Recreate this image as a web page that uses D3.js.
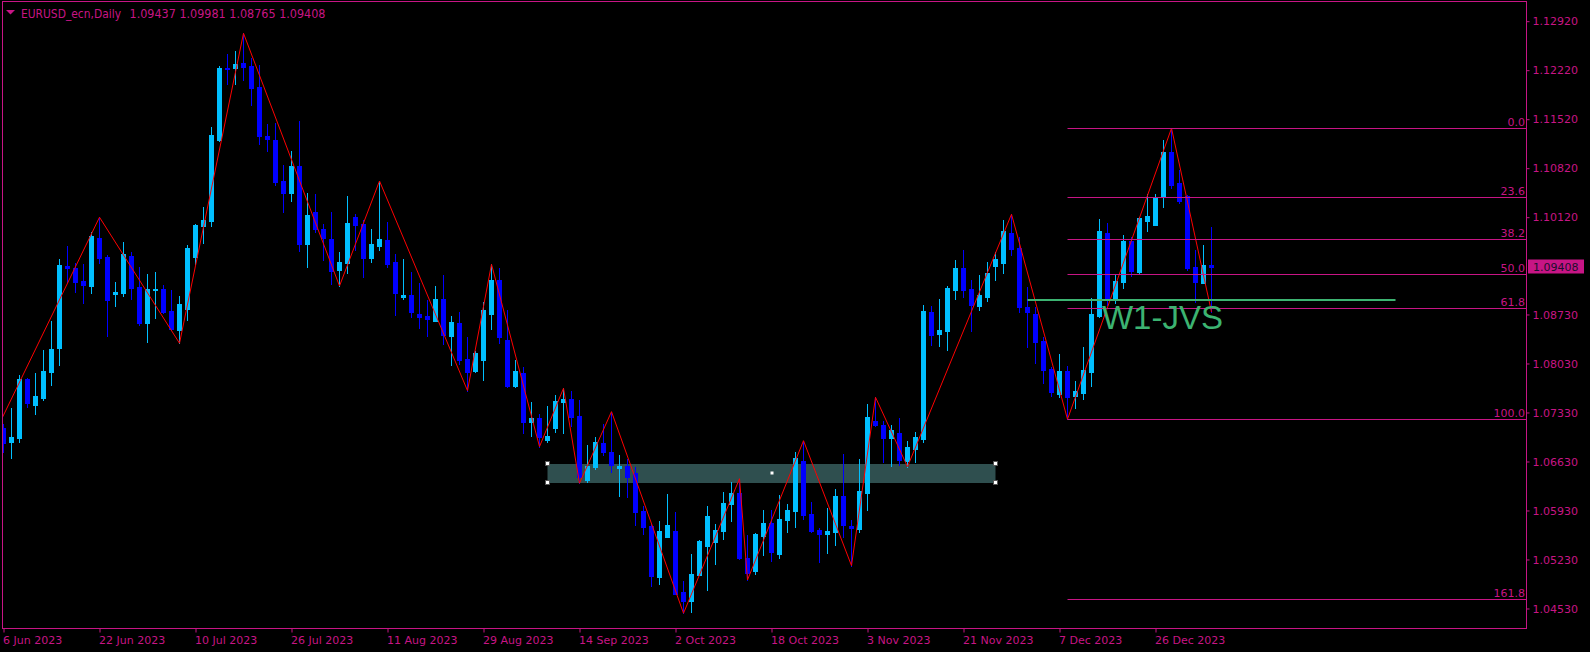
<!DOCTYPE html>
<html><head><meta charset="utf-8">
<script src="https://cdn.jsdelivr.net/npm/d3@7"></script>
<style>html,body{margin:0;padding:0;background:#000;overflow:hidden}</style>
</head><body><svg id="c" width="1590" height="652"></svg>
<script>
// ---- data (EURUSD_ecn, Daily) ----
const symbolTitle = "EURUSD_ecn,Daily";
const lastQuote = ["1.09437", "1.09981", "1.08765", "1.09408"];
const opens = [1.07104,1.06913,1.06970,1.07809,1.07442,1.07542,1.07909,1.08256,1.09423,1.09399,
1.09209,1.09137,1.09823,1.09552,1.09027,1.09037,1.09566,1.09123,1.08609,1.09080,
1.09094,1.08780,1.08509,1.08809,1.09552,1.09994,1.10066,1.11223,1.12256,1.12256,
1.12323,1.12280,1.11980,1.11284,1.11227,1.10637,1.10466,1.10856,1.09742,1.10194,
1.09952,1.09809,1.09370,1.09466,1.10123,1.10023,1.09537,1.09709,1.09794,1.09480,
1.08984,1.09009,1.08737,1.08709,1.08642,1.08952,1.08427,1.08609,1.08094,1.07927,
1.08084,1.08742,1.09223,1.08370,1.07709,1.07894,1.07199,1.07252,1.06942,1.07113,
1.07480,1.07523,1.07280,1.06366,1.06552,1.06894,1.06766,1.06542,1.06566,1.06466,
1.05923,1.05713,1.04980,1.05556,1.05637,1.04766,1.04637,1.05013,1.05427,1.05480,
1.05642,1.06027,1.06180,1.05256,1.05070,1.05570,1.05752,1.05313,1.05799,1.05927,
1.06637,1.05880,1.05652,1.05599,1.05627,1.06137,1.05709,1.05666,1.06180,1.07209,
1.07152,1.06966,1.07037,1.06637,1.06809,1.06952,1.08766,1.08452,1.08494,1.09080,
1.09394,1.09094,1.08852,1.08980,1.09423,1.09466,1.09894,1.09680,1.08842,1.08737,
1.08356,1.07952,1.07599,1.07923,1.07570,1.07613,1.07913,1.08713,1.09894,1.08942,
1.09199,1.09784,1.09342,1.10070,1.10013,1.10404,1.11056,1.10613,1.10427,1.09413,
1.09184,1.09437];
const highs = [1.07166,1.07390,1.07866,1.07823,1.07899,1.08223,1.08637,1.09523,1.09709,1.09466,
1.09452,1.09909,1.10119,1.09580,1.09194,1.09766,1.09623,1.09409,1.09309,1.09337,
1.09152,1.09080,1.08994,1.09723,1.10023,1.10266,1.11409,1.12280,1.12452,1.12494,
1.12747,1.12394,1.12294,1.11452,1.11466,1.10866,1.11066,1.11494,1.10470,1.10452,
1.10023,1.10194,1.09623,1.10423,1.10166,1.10080,1.09952,1.10637,1.10052,1.09594,
1.09523,1.09337,1.09180,1.08937,1.09137,1.09294,1.08709,1.08766,1.08409,1.08209,
1.08909,1.09447,1.09394,1.08799,1.08080,1.07980,1.07480,1.07309,1.07423,1.07580,
1.07676,1.07637,1.07509,1.06866,1.06980,1.07166,1.07342,1.06723,1.06670,1.06552,
1.05994,1.05742,1.05780,1.06166,1.05909,1.04923,1.05309,1.05509,1.05994,1.05737,
1.06194,1.06337,1.06384,1.05580,1.05609,1.05937,1.05937,1.06152,1.06023,1.06766,
1.06927,1.06052,1.05680,1.05966,1.06237,1.06737,1.05794,1.06666,1.07452,1.07547,
1.07209,1.07152,1.07252,1.06923,1.07052,1.08866,1.08852,1.08952,1.09137,1.09509,
1.09652,1.09223,1.09294,1.09480,1.09623,1.10080,1.10162,1.09837,1.09127,1.08842,
1.08413,1.07984,1.08170,1.07999,1.07784,1.08270,1.08966,1.10099,1.10042,1.09299,
1.09866,1.09842,1.10123,1.10452,1.10452,1.11223,1.11390,1.10794,1.10437,1.09652,
1.09723,1.09981];
const lows = [1.06766,1.06680,1.06913,1.07413,1.07313,1.07513,1.07723,1.08009,1.09194,1.09056,
1.08899,1.09042,1.09470,1.08423,1.08852,1.08994,1.08952,1.08580,1.08337,1.08680,
1.08752,1.08509,1.08319,1.08652,1.09452,1.09752,1.09994,1.11209,1.12023,1.12023,
1.12080,1.11723,1.11166,1.11070,1.10580,1.10199,1.10352,1.09637,1.09409,1.09913,
1.09509,1.09170,1.09137,1.09323,1.09652,1.09266,1.09480,1.09652,1.09409,1.08723,
1.08952,1.08699,1.08542,1.08427,1.08630,1.08313,1.08013,1.08027,1.07642,1.07913,
1.07799,1.08527,1.08327,1.07694,1.07694,1.07042,1.06999,1.06842,1.06913,1.07056,
1.07042,1.07142,1.06319,1.06337,1.06523,1.06723,1.06480,1.06142,1.06127,1.05723,
1.05599,1.04856,1.04884,1.05544,1.04730,1.04462,1.04484,1.05002,1.04799,1.05170,
1.05527,1.05784,1.05242,1.04937,1.05027,1.05299,1.05209,1.05256,1.05627,1.05699,
1.05813,1.05623,1.05199,1.05327,1.05442,1.05556,1.05142,1.05627,1.05937,1.07137,
1.06623,1.06566,1.06580,1.06556,1.06623,1.06909,1.08294,1.08280,1.08223,1.08952,
1.08980,1.08494,1.08794,1.08923,1.09223,1.09323,1.09580,1.08770,1.08270,1.08033,
1.07756,1.07570,1.07556,1.07233,1.07399,1.07527,1.07713,1.08699,1.08870,1.08899,
1.09113,1.09284,1.09327,1.09927,1.10002,1.10270,1.10542,1.10327,1.09370,1.08913,
1.09173,1.08765];
const closes = [1.06890,1.06980,1.07809,1.07466,1.07566,1.07923,1.08237,1.09437,1.09399,1.09199,
1.09152,1.09852,1.09542,1.08942,1.09052,1.09594,1.09109,1.08609,1.09094,1.09094,
1.08766,1.08523,1.08880,1.09680,1.10009,1.10080,1.11294,1.12256,1.12237,1.12309,
1.12266,1.11970,1.11284,1.11237,1.10623,1.10466,1.10856,1.09742,1.10152,1.09952,
1.09827,1.09356,1.09480,1.10037,1.10009,1.09537,1.09737,1.09809,1.09452,1.09037,
1.09009,1.08770,1.08699,1.08666,1.08952,1.08442,1.08623,1.08084,1.07913,1.08180,
1.08794,1.09223,1.08413,1.07713,1.07923,1.07199,1.07252,1.06984,1.06994,1.07494,
1.07523,1.07270,1.06413,1.06566,1.06909,1.06770,1.06580,1.06566,1.06409,1.05913,
1.05694,1.04999,1.05637,1.05723,1.04742,1.04637,1.05023,1.05494,1.05852,1.05652,
1.06037,1.06180,1.05256,1.05042,1.05594,1.05752,1.05342,1.05809,1.05937,1.06680,
1.05866,1.05637,1.05599,1.05637,1.06137,1.05723,1.05680,1.06209,1.07266,1.07152,
1.06966,1.07080,1.06652,1.06837,1.06980,1.08780,1.08437,1.08509,1.09109,1.09394,
1.09080,1.08866,1.09009,1.09323,1.09523,1.09923,1.09666,1.08837,1.08770,1.08342,
1.07942,1.07627,1.07923,1.07556,1.07637,1.07937,1.08737,1.09923,1.08942,1.09209,
1.09784,1.09352,1.10113,1.10137,1.10399,1.11056,1.10584,1.10356,1.09399,1.09199,
1.09437,1.09408];

const dateLabels = ["6 Jun 2023","22 Jun 2023","10 Jul 2023","26 Jul 2023","11 Aug 2023","29 Aug 2023",
  "14 Sep 2023","2 Oct 2023","18 Oct 2023","3 Nov 2023","21 Nov 2023","7 Dec 2023","26 Dec 2023"];
const dateBars = [0,12,24,36,48,60,72,84,96,108,120,132,144];
const priceTicks = [1.12920,1.12220,1.11520,1.10820,1.10120,1.08730,1.08030,1.07330,1.06630,1.05930,1.05230,1.04530];

// ZigZag pivots
const zzBars   = [-2, 12, 22, 30, 42, 47, 58, 61, 67, 70, 72, 76, 85, 92, 93, 100, 106, 109, 113, 126, 133, 146, 151];
const zzPrices = [1.06820,1.10119,1.08319,1.12747,1.09137,1.10637,1.07642,1.09447,1.06842,1.07676,1.06319,1.07342,
                  1.04462,1.06384,1.04937,1.06927,1.05142,1.07547,1.06556,1.10162,1.07233,1.11390,1.08765];

// Fibonacci retracement (from low bar 133 to high bar 146)
const fibLevels = [0.0, 23.6, 38.2, 50.0, 61.8, 100.0, 161.8];
const fibHigh = 1.11390, fibLow = 1.07233, fibStartBar = 133;

// Rectangle zone
const zoneBars = [68, 124];
const zonePrices = [1.06594, 1.06323];

// Horizontal line + label
const hLineBars = [128, 174];
const hLinePrice = 1.08941;
const hLabel = "W1-JVS";
const hLabelBar = 137.3, hLabelPrice = 1.08516;

// ---- drawing ----
const W = 1590, H = 652;
const plot = {l: 2.5, t: 1.5, r: 1526.5, b: 628.5};
const MAG = "#C71585", BULL = "#00BFFF", BEAR = "#0000FF", GREEN = "#3CB371", RED = "#FF0000";
const FONT = "DejaVu Sans";

const svg = d3.select("#c");
svg.append("rect").attr("width", W).attr("height", H).attr("fill", "#000");

const x = d3.scaleLinear().domain([0, 1]).range([3.5, 11.5]);
const y = d3.scaleLinear().domain([1.04251, 1.13194]).range([628, 2]);

svg.append("clipPath").attr("id", "clip").append("rect")
  .attr("x", plot.l).attr("y", plot.t).attr("width", plot.r - plot.l).attr("height", plot.b - plot.t);
const g = svg.append("g").attr("clip-path", "url(#clip)");

// zone rectangle
const zx0 = x(zoneBars[0]), zx1 = x(zoneBars[1]);
const zy0 = y(zonePrices[0]), zy1 = y(zonePrices[1]);
g.append("rect").attr("x", zx0).attr("y", Math.round(zy0)).attr("width", zx1 - zx0)
  .attr("height", Math.round(zy1) - Math.round(zy0)).attr("fill", "#2F4F4F");

// candles
const bars = d3.range(opens.length).map(i => ({i, o: opens[i], h: highs[i], l: lows[i], c: closes[i]}));
const cg = g.append("g");
bars.forEach(d => {
  const col = d.c > d.o ? BULL : BEAR;
  const cx = x(d.i);
  const yh = Math.round(y(d.h)), yl = Math.round(y(d.l));
  cg.append("rect").attr("x", cx - 0.5).attr("y", yh).attr("width", 1).attr("height", Math.max(1, yl - yh + 1)).attr("fill", col);
  const t = Math.round(y(Math.max(d.o, d.c))), b = Math.round(y(Math.min(d.o, d.c)));
  cg.append("rect").attr("x", cx - 2.5).attr("y", t).attr("width", 5).attr("height", Math.max(1, b - t + 1)).attr("fill", col);
});

// zone handles
[[zx0, zy0], [zx0, zy1], [zx1, zy0], [zx1, zy1]].forEach(([hx, hy]) => {
  svg.append("rect").attr("x", Math.round(hx) - 2.5).attr("y", Math.round(hy) - 2.5).attr("width", 4).attr("height", 4)
    .attr("fill", "#fff").attr("stroke", "#555").attr("stroke-width", 1);
});
svg.append("rect").attr("x", Math.round((zx0 + zx1) / 2) - 1.5).attr("y", Math.round((zy0 + zy1) / 2) - 1.5)
  .attr("width", 3).attr("height", 3).attr("fill", "#fff");

// zigzag
const zz = zzBars.map((b, k) => [x(b), y(zzPrices[k])]);
g.append("path").attr("d", d3.line()(zz)).attr("fill", "none").attr("stroke", RED).attr("stroke-width", 1);

// fibonacci
const fibX0 = x(fibStartBar);
fibLevels.forEach(lv => {
  const p = fibHigh - lv / 100 * (fibHigh - fibLow);
  const fy = Math.round(y(p)) + 0.5;
  svg.append("line").attr("x1", fibX0).attr("x2", plot.r).attr("y1", fy).attr("y2", fy)
    .attr("stroke", MAG).attr("stroke-width", 1);
  svg.append("text").attr("x", 1525).attr("y", fy - 3).attr("text-anchor", "end")
    .attr("font-family", FONT).attr("font-size", 11).attr("fill", MAG).text(lv.toFixed(1));
});

// horizontal green line + label
const hy = Math.round(y(hLinePrice));
svg.append("rect").attr("x", x(hLineBars[0])).attr("y", hy - 1).attr("width", x(hLineBars[1]) - x(hLineBars[0]))
  .attr("height", 2).attr("fill", GREEN);
svg.append("text").attr("x", x(hLabelBar)).attr("y", y(hLabelPrice))
  .attr("font-family", "Liberation Sans, Arial, sans-serif").attr("font-size", 33).attr("fill", GREEN).text(hLabel);

// frame
svg.append("rect").attr("x", plot.l).attr("y", plot.t).attr("width", plot.r - plot.l).attr("height", plot.b - plot.t)
  .attr("fill", "none").attr("stroke", MAG).attr("stroke-width", 1);

// right price axis
const ay = svg.append("g").attr("transform", `translate(${plot.r},0)`)
  .call(d3.axisRight(y).tickValues(priceTicks).tickFormat(d3.format(".5f")).tickSize(3).tickPadding(3));
ay.select(".domain").remove();
ay.selectAll("line").attr("stroke", MAG);
ay.selectAll("text").attr("fill", MAG).attr("font-family", FONT).attr("font-size", 11);

// bottom time axis
const ax = svg.append("g").attr("transform", `translate(0,${plot.b})`)
  .call(d3.axisBottom(x).tickValues(dateBars).tickFormat((d, k) => dateLabels[k]).tickSize(4).tickSizeOuter(0));
ax.select(".domain").remove();
ax.selectAll("line").attr("stroke", MAG);
ax.selectAll("text").attr("fill", MAG).attr("font-family", FONT).attr("font-size", 11)
  .attr("text-anchor", "start").attr("x", -1).attr("y", 15.5).attr("dy", 0);

// last price marker
const lastP = closes[closes.length - 1];
const ly = Math.round(y(lastP));
svg.append("rect").attr("x", 1528).attr("y", ly - 7.5).attr("width", 56).attr("height", 14).attr("fill", MAG);
svg.append("text").attr("x", 1533).attr("y", ly + 3.5).attr("font-family", FONT).attr("font-size", 11)
  .attr("fill", "#1a0f2e").text(d3.format(".5f")(lastP));

// title
svg.append("path").attr("d", "M6,10 L15,10 L10.5,14.5 Z").attr("fill", MAG);
svg.append("text").attr("x", 21).attr("y", 17.5).attr("font-family", FONT).attr("font-size", 12.3)
  .attr("fill", MAG).attr("textLength", 100).attr("lengthAdjust", "spacingAndGlyphs").text(symbolTitle);
svg.append("text").attr("x", 129.5).attr("y", 17.5).attr("font-family", FONT).attr("font-size", 12)
  .attr("fill", MAG).attr("textLength", 196).attr("lengthAdjust", "spacingAndGlyphs").text(lastQuote.join(" "));
</script>
</body></html>
